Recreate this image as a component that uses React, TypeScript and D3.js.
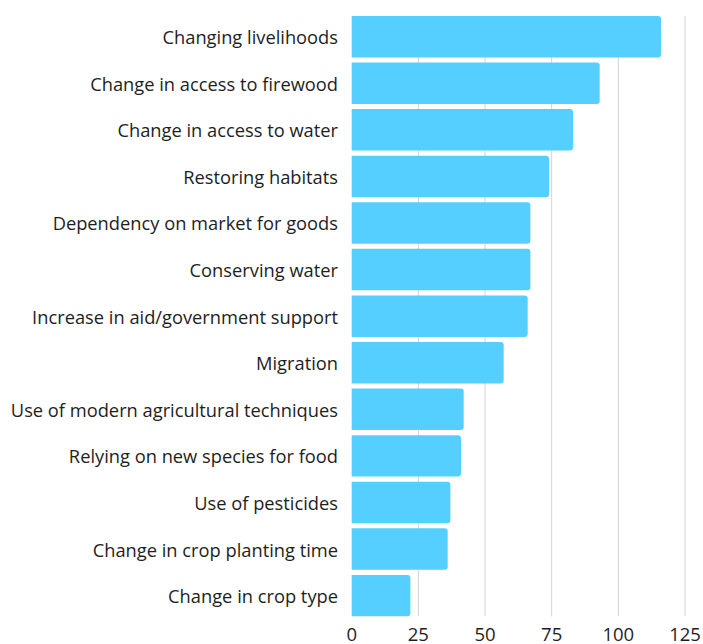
import React from "react";
import * as d3 from "d3";

const categories = [
  "Changing livelihoods",
  "Change in access to firewood",
  "Change in access to water",
  "Restoring habitats",
  "Dependency on market for goods",
  "Conserving water",
  "Increase in aid/government support",
  "Migration",
  "Use of modern agricultural techniques",
  "Relying on new species for food",
  "Use of pesticides",
  "Change in crop planting time",
  "Change in crop type",
];
const values = [116, 93, 83, 74, 67, 67, 66, 57, 42, 41, 37, 36, 22];
const ticks = [0, 25, 50, 75, 100, 125];

const W = 703;
const H = 644;
const FONT = "'Open Sans', sans-serif";

function barPath(x0: number, y0: number, w: number, h: number, r: number) {
  const rr = Math.min(r, w / 2, h / 2);
  return `M${x0},${y0}H${x0 + w - rr}Q${x0 + w},${y0} ${x0 + w},${y0 + rr}V${y0 + h - rr}Q${x0 + w},${y0 + h} ${x0 + w - rr},${y0 + h}H${x0}Z`;
}

export default function App() {
  const x = d3.scaleLinear().domain([0, 125]).range([351.7, 685]);
  const y = d3
    .scaleBand<string>()
    .domain(categories)
    .range([13.4, 618.9])
    .paddingInner(0.11)
    .paddingOuter(0.055);

  const gridTop = y(categories[0])!;
  const gridBottom = y(categories[categories.length - 1])! + y.bandwidth();

  return (
    <svg
      width={W}
      height={H}
      style={{ position: "absolute", left: 0, top: 0, background: "#fff" }}
    >
      <g>
        {ticks.slice(1).map((t) => (
          <line
            key={t}
            x1={x(t)}
            x2={x(t)}
            y1={gridTop}
            y2={gridBottom}
            stroke="#d3d3d3"
            strokeWidth={1}
          />
        ))}
      </g>
      <g>
        {categories.map((c, i) => (
          <path
            key={c}
            d={barPath(x(0), y(c)!, x(values[i]) - x(0), y.bandwidth(), 3)}
            fill="#55CFFF"
          />
        ))}
      </g>
      <g fontFamily={FONT} fontSize={18.3} fill="#1e1e1e">
        {categories.map((c) => (
          <text
            key={c}
            x={338}
            y={y(c)! + y.bandwidth() / 2}
            textAnchor="end"
            dominantBaseline="central"
          >
            {c}
          </text>
        ))}
      </g>
      <g fontFamily={FONT} fontSize={18.5} fill="#1e1e1e">
        {ticks.map((t) => (
          <text key={t} x={x(t)} y={640.5} textAnchor="middle">
            {t}
          </text>
        ))}
      </g>
    </svg>
  );
}
